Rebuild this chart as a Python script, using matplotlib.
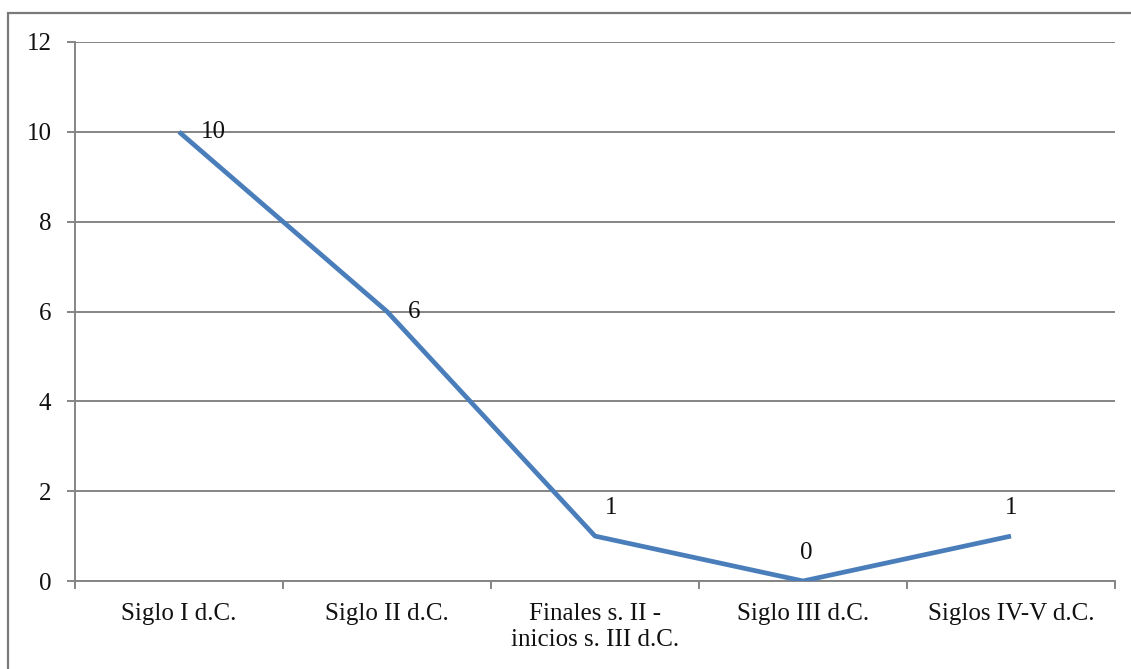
import matplotlib
matplotlib.use('Agg')
import matplotlib.pyplot as plt
from matplotlib.patches import Rectangle

# Data
categories = ['Siglo I d.C.', 'Siglo II d.C.', 'Finales s. II -\ninicios s. III d.C.',
              'Siglo III d.C.', 'Siglos IV-V d.C.']
values = [10, 6, 1, 0, 1]
y_ticks = [0, 2, 4, 6, 8, 10, 12]

# label offsets in pixels (dx, dy) and alignment
label_style = [
    (22, 0, 'left'),
    (21, 0, 'left'),
    (16, 28, 'center'),
    (3, 28, 'center'),
    (0, 28, 'center'),
]

plt.rcParams['font.family'] = ['Liberation Serif', 'DejaVu Serif']
line_color = '#4a7ebb'
grid_color = '#858585'
text_color = '#111111'
fs = 18

fig = plt.figure(figsize=(11.31, 6.69), dpi=100)
ax = fig.add_axes([75 / 1131, 1 - 581 / 669, 1040 / 1131, 539 / 669])

x = list(range(len(categories)))
ax.plot(x, values, color=line_color, linewidth=3.4, solid_capstyle='butt', zorder=3)

for i, v in enumerate(values):
    dx, dy, ha = label_style[i]
    ax.annotate(str(v), (i, v), xytext=(dx * 0.72, dy * 0.72), textcoords='offset points',
                ha=ha, va='center', fontsize=fs, color=text_color, zorder=4)

ax.set_xlim(-0.5, len(categories) - 0.5)
ax.set_ylim(0, 12)
ax.set_yticks(y_ticks)
ax.set_yticklabels([str(t) for t in y_ticks])
ax.yaxis.grid(True, color=grid_color, linewidth=1.4)
ax.set_axisbelow(True)

ax.set_xticks(x)
ax.set_xticklabels(categories, linespacing=1.2)
ax.tick_params(axis='x', length=0, pad=16, labelsize=fs, labelcolor=text_color)
ax.set_xticks([i - 0.5 for i in range(len(categories) + 1)], minor=True)
ax.tick_params(axis='x', which='minor', length=6, width=1.4, color=grid_color)
ax.tick_params(axis='y', length=6, width=1.4, color=grid_color, pad=11,
               labelsize=fs, labelcolor=text_color)

for side in ['top', 'right']:
    ax.spines[side].set_visible(False)
for side in ['left', 'bottom']:
    ax.spines[side].set_color(grid_color)
    ax.spines[side].set_linewidth(1.4)

# outer frame (right and bottom edges fall outside the image)
fig.patches.append(Rectangle((8 / 1131, -0.05), 1.2, 1 - 13 / 669 + 0.05,
                             transform=fig.transFigure, fill=False,
                             edgecolor='#7a7a7a', linewidth=1.6))

fig.savefig('out.png', dpi=100, facecolor='white')
